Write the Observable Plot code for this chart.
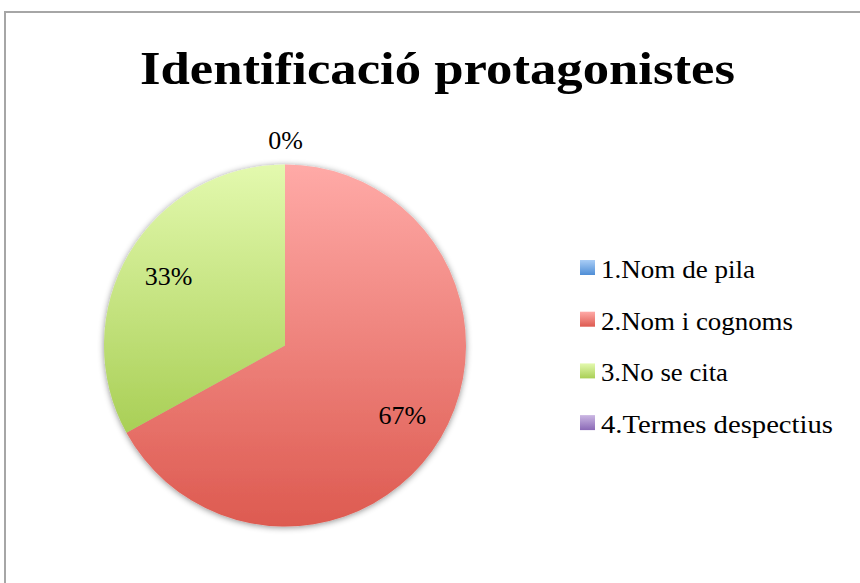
<!DOCTYPE html>
<html><head><meta charset="utf-8">
<script src="https://cdn.jsdelivr.net/npm/d3@7"></script>
<script src="https://cdn.jsdelivr.net/npm/@observablehq/plot@0.6"></script>
<style>
body{margin:0;background:#fff;}
#wrap{position:relative;width:860px;height:583px;overflow:hidden;font-family:"Liberation Serif",serif;background:#fff}
#frame{position:absolute;left:4px;top:11px;width:1000px;height:1000px;border:2px solid #a6a6a6;box-sizing:border-box}
#chart{position:absolute;left:0;top:0}
#overlay{position:absolute;left:0;top:0}
</style></head>
<body>
<div id="wrap"><div id="frame"></div><div id="chart"></div><svg id="overlay" width="860" height="583"></svg></div>
<script>
const title = "Identificació protagonistes";
const categories = ["1.Nom de pila", "2.Nom i cognoms", "3.No se cita", "4.Termes despectius"];
const values = [0, 67, 33, 0];
const labels = ["0%", "67%", "33%", "0%"];
const gradTop = ["#a9cdf6", "#ffaaa7", "#e3f9ae", "#cbb7e3"];
const gradBottom = ["#4f8ed6", "#dd5a50", "#a9cf56", "#8a69b6"];

const slices = d3.pie().sort(null).value(d => d.value)(
  categories.map((c, i) => ({category: c, value: values[i], label: labels[i], i}))
);
// label positions in pie units (radius = 1)
const labelData = [];
const seen = new Set();
for (const s of slices) {
  const mid = (s.startAngle + s.endAngle) / 2;
  const r = s.data.value === 0 ? 1.13 : 0.75;
  const key = Math.round(Math.sin(mid) * r * 100) + "," + Math.round(Math.cos(mid) * r * 100);
  if (seen.has(key)) continue;
  seen.add(key);
  labelData.push({x: Math.sin(mid) * r, y: Math.cos(mid) * r, label: s.data.label});
}

function pieMark(index, scales) {
  const x = scales.x, y = scales.y;
  const cx = x(0), cy = y(0);
  const radius = (x(1) - x(-1)) / 2;
  const g = d3.create("svg:g");
  const defs = g.append("defs");
  slices.forEach((s, i) => {
    const lg = defs.append("linearGradient").attr("id", "g" + i)
      .attr("x1", 0).attr("y1", 0).attr("x2", 0).attr("y2", 1);
    lg.append("stop").attr("offset", "0%").attr("stop-color", gradTop[i]);
    lg.append("stop").attr("offset", "100%").attr("stop-color", gradBottom[i]);
  });
  const f = defs.append("filter").attr("id", "shadow").attr("x", "-20%").attr("y", "-20%").attr("width", "140%").attr("height", "140%");
  f.append("feDropShadow").attr("dx", 0).attr("dy", 1).attr("stdDeviation", 3).attr("flood-color", "#000").attr("flood-opacity", 0.45);
  const arc = d3.arc().innerRadius(0).outerRadius(radius);
  const pg = g.append("g").attr("transform", `translate(${cx},${cy})`).attr("filter", "url(#shadow)");
  pg.selectAll("path").data(slices.filter(s => s.endAngle > s.startAngle)).join("path")
    .attr("d", arc)
    .attr("fill", s => `url(#g${s.data.i})`);
  return g.node();
}

const plot = Plot.plot({
  width: 860, height: 583,
  marginLeft: 104, marginRight: 394, marginTop: 164, marginBottom: 56,
  x: {domain: [-1, 1], axis: null},
  y: {domain: [-1, 1], axis: null},
  style: {background: "transparent", fontFamily: "'Liberation Serif', serif"},
  marks: [
    pieMark,
    Plot.text(labelData, {x: "x", y: "y", text: "label", fontSize: 26, fill: "#000", lineAnchor: "middle"}),
  ]
});
document.getElementById("chart").appendChild(plot);

// title & legend
const ov = d3.select("#overlay");
ov.append("text").attr("x", 437.5).attr("y", 84).attr("text-anchor", "middle")
  .attr("font-family", "'Liberation Serif', serif").attr("font-weight", "bold")
  .attr("font-size", 47).attr("textLength", 595).attr("lengthAdjust", "spacingAndGlyphs").text(title);
const legendWidths = [154, 192, 127, 232];
const ldefs = ov.append("defs");
categories.forEach((c, i) => {
  const lg = ldefs.append("linearGradient").attr("id", "lg" + i).attr("x1", 0).attr("y1", 0).attr("x2", 0).attr("y2", 1);
  lg.append("stop").attr("offset", "0%").attr("stop-color", gradTop[i]);
  lg.append("stop").attr("offset", "100%").attr("stop-color", gradBottom[i]);
  const base = 278 + i * 51.7;
  ov.append("rect").attr("x", 580).attr("y", base - 18).attr("width", 15).attr("height", 15).attr("fill", `url(#lg${i})`);
  ov.append("text").attr("x", 601).attr("y", base).attr("font-family", "'Liberation Serif', serif")
    .attr("font-size", 25).attr("textLength", legendWidths[i]).attr("lengthAdjust", "spacingAndGlyphs").text(c);
});
</script>
</body></html>
